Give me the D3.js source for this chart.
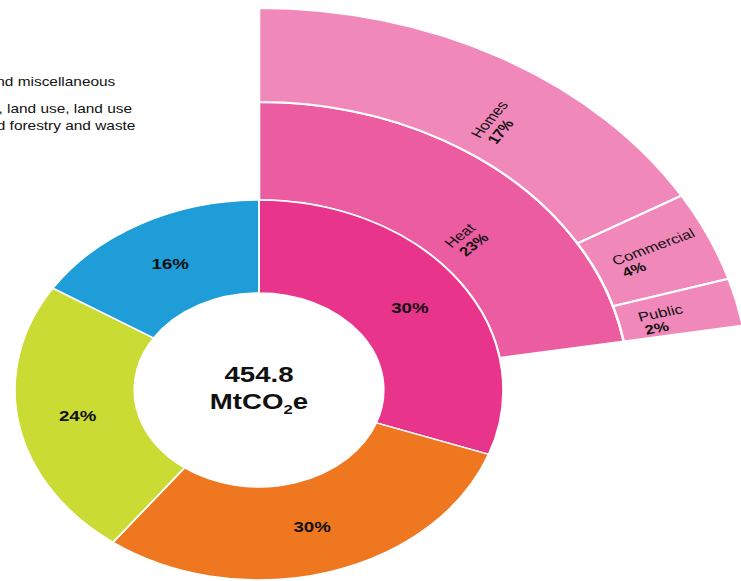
<!DOCTYPE html>
<html>
<head>
<meta charset="utf-8">
<script src="https://cdn.jsdelivr.net/npm/d3@7"></script>
<style>
  body { margin: 0; background: #fff; }
  svg { display: block; }
  text { font-family: "Liberation Sans", Arial, sans-serif; fill: #111; }
</style>
</head>
<body>
<div id="chart"></div>
<script>
// donut: share of total emissions (percent)
const sectors = ['Buildings', 'Transport', 'Industry and miscellaneous', 'Agriculture']
const sectorValues = [30.5, 29.7, 23.8, 16.0]
const sectorLabels = ['30%', '30%', '24%', '16%']
const sectorColors = ['#e8358b', '#ee771f', '#cadb33', '#1e9dd8']

// exploded buildings slice
const heatName = 'Heat'
const heatValue = 22.3
const heatLabel = '23%'
const heatUses = ['Homes', 'Commercial', 'Public']
const heatUseValues = [16.5, 3.8, 2.0]
const heatUseLabels = ['17%', '4%', '2%']

const totalText = '454.8'

// cut-off legend at the left edge
const legendLines = [
    ['Industry and miscellaneous'],
    ['Agriculture, land use, land use', 'change and forestry and waste']
]

const W = 741, H = 581
const sx = 1.285 // the whole picture is stretched horizontally
const cx = 259 / sx, cy = 390
const r0 = 97, r1 = 190, r2 = 288, r3 = 382

const svg = d3.select('#chart').append('svg')
    .attr('width', W)
    .attr('height', H)
    .attr('viewBox', `0 0 ${W / sx} ${H}`)
    .attr('preserveAspectRatio', 'none')

// legend (squares and word starts sit outside the picture)
const legendX = [-55.5, -58.5]
legendLines.forEach((lines, i) => {
    lines.forEach((t, j) => {
        svg.append('text')
            .attr('x', legendX[i])
            .attr('y', 86 + i * 27 + j * 17)
            .attr('font-size', 12)
            .text(t)
    })
})

const g = svg.append('g').attr('transform', `translate(${cx},${cy})`)

// angle scale: percent of total -> radians
const ang = d3.scaleLinear().domain([0, 100]).range([0, 2 * Math.PI])

// outer sunburst rings
const heatArc = d3.arc().innerRadius(r1).outerRadius(r2)
const useArc = d3.arc().innerRadius(r2).outerRadius(r3)

const heatDatum = { startAngle: ang(0), endAngle: ang(heatValue) }
g.append('path')
    .attr('d', heatArc(heatDatum))
    .attr('fill', '#ec5ca0')
    .attr('stroke', '#fff')
    .attr('stroke-width', 2)

let acc = 0
const useData = heatUseValues.map((v, i) => {
    const d = { startAngle: ang(acc), endAngle: ang(acc + v), name: heatUses[i], label: heatUseLabels[i] }
    acc += v
    return d
})

g.selectAll('.use')
    .data(useData)
    .join('path')
    .attr('class', 'use')
    .attr('d', useArc)
    .attr('fill', '#f088b9')
    .attr('stroke', '#fff')
    .attr('stroke-width', 2)

// donut
const pie = d3.pie().sort(null).value(d => d)
const arcs = pie(sectorValues)
const donutArc = d3.arc().innerRadius(r0).outerRadius(r1)

g.selectAll('.sector')
    .data(arcs)
    .join('path')
    .attr('class', 'sector')
    .attr('d', donutArc)
    .attr('fill', (d, i) => sectorColors[i])
    .attr('stroke', '#fff')
    .attr('stroke-width', 1.5)

g.selectAll('.slabel')
    .data(arcs)
    .join('text')
    .attr('class', 'slabel')
    .attr('transform', d => `translate(${donutArc.centroid(d)})`)
    .attr('text-anchor', 'middle')
    .attr('dy', '0.35em')
    .attr('font-size', 14.5)
    .attr('font-weight', 'bold')
    .text((d, i) => sectorLabels[i])

// radial two-line labels for the ring segments, starting just inside the ring
function ringLabel(d, rin, name, pct) {
    const span = d.endAngle - d.startAngle
    const a = d.startAngle + (span > 0.5 ? 0.56 : 0.39) * span
    const r = rin + 16
    const deg = a * 180 / Math.PI
    const lg = g.append('g')
        .attr('transform', `translate(${r * Math.sin(a)},${-r * Math.cos(a)}) rotate(${deg - 90})`)
    lg.append('text')
        .attr('y', 6)
        .attr('font-size', 13)
        .text(name)
    lg.append('text')
        .attr('x', 2)
        .attr('y', 20)
        .attr('font-size', 13)
        .attr('font-weight', 'bold')
        .text(pct)
}

ringLabel(heatDatum, r1, heatName, heatLabel)
useData.forEach(d => ringLabel(d, r2, d.name, d.label))

// centre total
g.append('text')
    .attr('text-anchor', 'middle')
    .attr('y', -8)
    .attr('font-size', 21.5)
    .attr('font-weight', 'bold')
    .text(totalText)

const unit = g.append('text')
    .attr('text-anchor', 'middle')
    .attr('y', 19)
    .attr('font-size', 21.5)
    .attr('font-weight', 'bold')
unit.append('tspan').text('MtCO')
unit.append('tspan').attr('font-size', 13).attr('dy', 5).text('2')
unit.append('tspan').attr('dy', -5).text('e')
</script>
</body>
</html>
